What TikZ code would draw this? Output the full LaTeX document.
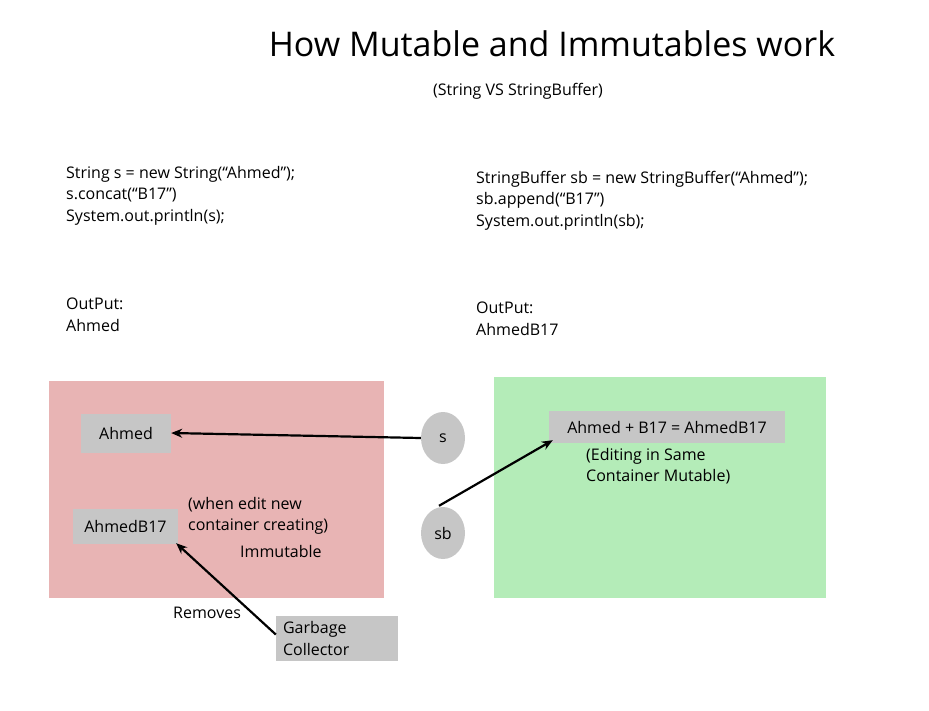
\documentclass[tikz,border=0pt]{standalone}
\usepackage{fontspec}
\setmainfont{Open Sans}
\usetikzlibrary{arrows.meta,shapes.geometric,calc}
\begin{document}
\begin{tikzpicture}[x=1pt,y=-1pt,
  txt/.style={anchor=north west,inner sep=0pt,font=\fontsize{16}{21.5}\selectfont,align=left},
  gbox/.style={fill=gray!45,inner sep=0pt,font=\fontsize{16}{21.5}\selectfont,align=left},
  circ/.style={ellipse,fill=gray!45,minimum width=44pt,minimum height=52pt,inner sep=0pt,font=\fontsize{16}{20}\selectfont},
  arr/.style={-{Stealth[length=11pt,width=9pt]},line width=2.2pt}]
\useasboundingbox (0,0) rectangle (929,710);
\node[font=\fontsize{34}{40}\selectfont,inner sep=0pt] (title) at (552,44) {How Mutable and Immutables work};
\node[font=\fontsize{16}{20}\selectfont,inner sep=0pt] (sub) at (518,91) {(String VS StringBuffer)};
\node[txt] (lc) at (66,166) {String s = new String(“Ahmed”);\\s.concat(“B17”)\\System.out.println(s);};
\node[txt] (rc) at (476,171) {StringBuffer sb = new StringBuffer(“Ahmed”);\\sb.append(“B17”)\\System.out.println(sb);};
\node[txt] (lo) at (66,298) {OutPut:\\Ahmed};
\node[txt] (ro) at (476,302) {OutPut:\\AhmedB17};
\fill[fill={rgb,255:red,232;green,180;blue,180}] (49,381) rectangle (384,598);
\fill[fill={rgb,255:red,180;green,236;blue,184}] (494,377) rectangle (826,598);
\node[gbox,minimum width=90pt,minimum height=39pt] (ahmed) at (126,433) {Ahmed};
\node[gbox,minimum width=105pt,minimum height=35pt] (ab) at (125.5,526.5) {AhmedB17};
\node[txt] (when) at (188,497) {(when edit new\\container creating)};
\node[txt] (imm) at (240,545) {Immutable};
\node[circ] (s) at (443,438) {s};
\node[circ] (sb) at (443,533) {sb};
\node[gbox,minimum width=236pt,minimum height=32pt] (g) at (667,427) {Ahmed + B17 = AhmedB17};
\node[txt] (edit) at (586,448) {(Editing in Same\\Container Mutable)};
\node[gbox,minimum width=122pt,minimum height=45pt,text width=108pt] (gc) at (337,638.5) {Garbage\\Collector};
\node[txt] (rem) at (173,607) {Removes};
\draw[arr] (s.west) -- (ahmed.east);
\draw[arr] ($(sb.north)+(-4,-1)$) -- ($(g.south west)+(4,-3)$);
\draw[arr] ($(gc.west)+(0,-4)$) -- ($(ab.south east)+(-2,-1)$);
\end{tikzpicture}
\end{document}
